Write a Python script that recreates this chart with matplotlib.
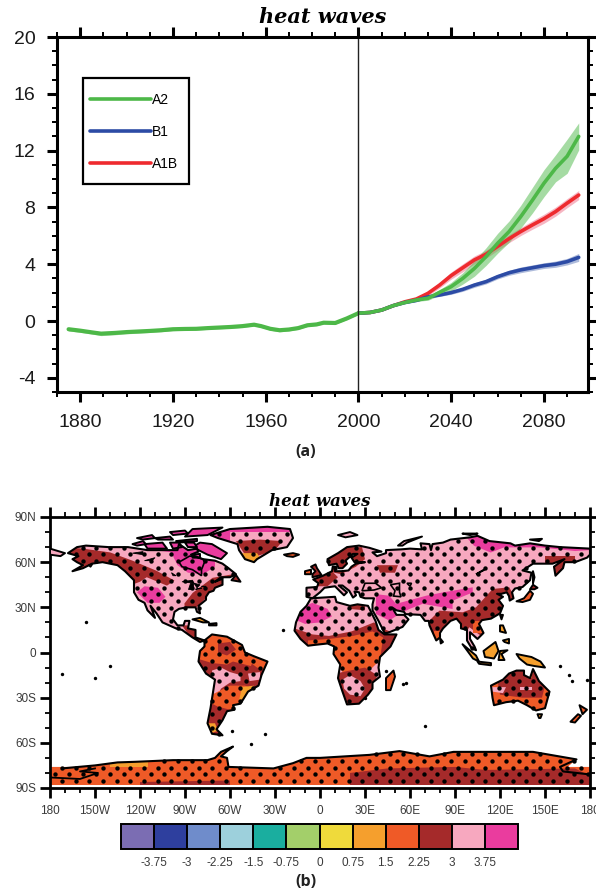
import numpy as np
import matplotlib
matplotlib.use("Agg")
import matplotlib.pyplot as plt
from matplotlib.colors import ListedColormap, BoundaryNorm
from matplotlib.path import Path
from matplotlib.patches import PathPatch, Polygon, Rectangle
from matplotlib.cm import ScalarMappable
from matplotlib.ticker import MultipleLocator

plt.rcParams['font.family'] = ['Liberation Sans', 'DejaVu Sans']
plt.rcParams['axes.unicode_minus'] = False

W, H = 596, 894

# ---- panel (a) data
hist_years = [1875, 1880, 1885, 1889, 1895, 1900, 1905, 1910, 1915, 1920, 1925, 1930, 1935, 1940, 1945, 1950,
              1955, 1958, 1962, 1966, 1970, 1974, 1978, 1982, 1985, 1990, 1995, 2000]
hist_vals = [-0.58, -0.68, -0.8, -0.89, -0.84, -0.78, -0.74, -0.7, -0.65, -0.58, -0.56, -0.55, -0.5, -0.46, -0.42,
             -0.36, -0.26, -0.36, -0.55, -0.65, -0.6, -0.5, -0.3, -0.24, -0.12, -0.14, 0.18, 0.55]
hist_err = [0.12, 0.12, 0.12, 0.14, 0.13, 0.12, 0.12, 0.11, 0.1, 0.1, 0.09, 0.09, 0.09, 0.09, 0.09, 0.09,
            0.09, 0.09, 0.1, 0.11, 0.1, 0.09, 0.09, 0.08, 0.08, 0.08, 0.08, 0.08]

fut_years = [2000, 2005, 2010, 2015, 2020, 2025, 2030, 2035, 2040, 2045, 2050, 2055, 2060, 2065, 2070, 2075,
             2080, 2085, 2090, 2095]
a2_vals = [0.55, 0.6, 0.77, 1.08, 1.3, 1.48, 1.6, 2.02, 2.42, 3.0, 3.7, 4.53, 5.47, 6.3, 7.35, 8.5, 9.7, 10.75,
           11.6, 13.0]
a2_err = [0.05, 0.05, 0.06, 0.07, 0.08, 0.1, 0.14, 0.2, 0.3, 0.4, 0.55, 0.62, 0.7, 0.75, 0.8, 0.9, 0.95, 0.95,
          1.2, 0.95]
b1_vals = [0.55, 0.6, 0.77, 1.08, 1.3, 1.45, 1.7, 1.83, 2.0, 2.23, 2.53, 2.77, 3.12, 3.4, 3.6, 3.75, 3.9, 4.0,
           4.18, 4.48]
b1_err = [0.05, 0.05, 0.05, 0.06, 0.06, 0.07, 0.08, 0.1, 0.12, 0.14, 0.16, 0.16, 0.16, 0.18, 0.2, 0.2, 0.2, 0.22,
          0.23, 0.28]
a1b_vals = [0.55, 0.6, 0.77, 1.08, 1.35, 1.55, 1.95, 2.53, 3.2, 3.75, 4.3, 4.7, 5.25, 5.8, 6.3, 6.76, 7.2, 7.7,
            8.3, 8.87]
a1b_err = [0.05, 0.05, 0.06, 0.07, 0.08, 0.12, 0.16, 0.2, 0.25, 0.28, 0.28, 0.28, 0.28, 0.28, 0.28, 0.3, 0.32, 0.32,
           0.32, 0.32]

green = '#4DB848'
blue = '#2C4BA5'
red = '#EE2A2E'

# ---- panel (b) data
bar_bounds = [-4.5, -3.75, -3, -2.25, -1.5, -0.75, 0, 0.75, 1.5, 2.25, 3, 3.75, 4.5]
bar_ticks = [-3.75, -3, -2.25, -1.5, -0.75, 0, 0.75, 1.5, 2.25, 3, 3.75]
bar_labels = ['-3.75', '-3', '-2.25', '-1.5', '-0.75', '0', '0.75', '1.5', '2.25', '3', '3.75']
bar_colors = ['#7B6DB3', '#2E3F9E', '#6F8CCB', '#9DD0DC', '#1AAE9F', '#A3CF6A', '#EFDA3B', '#F59F2D', '#EF5A27',
              '#A52A2A', '#F7A8BF', '#EA3C9E']

PINK, MAGENTA, DARK, ORED, ORANGE = 3.4, 4.0, 2.6, 1.9, 1.1

north_america = [(-168, 66), (-162, 70), (-156, 71), (-141, 70), (-128, 70), (-115, 68), (-108, 68), (-95, 68),
                 (-94, 72), (-88, 68), (-82, 69), (-81, 67), (-86, 65), (-78, 62), (-70, 61), (-65, 59), (-61, 56),
                 (-56, 52), (-60, 50), (-66, 50), (-70, 47), (-65, 49), (-65, 45), (-70, 43), (-71, 41), (-74, 40),
                 (-76, 37), (-76, 35), (-81, 31), (-80, 26), (-82, 27), (-83, 30), (-89, 30), (-94, 29), (-97, 27),
                 (-98, 22), (-95, 18), (-91, 18), (-90, 21), (-87, 21), (-88, 16), (-83, 15), (-83, 10), (-80, 9),
                 (-77, 8), (-80, 7), (-85, 10), (-92, 15), (-96, 16), (-105, 20), (-109, 26), (-113, 31), (-110, 23),
                 (-115, 28), (-117, 33), (-121, 35), (-124, 40), (-124, 48), (-130, 54), (-135, 58), (-145, 60),
                 (-152, 59), (-158, 56), (-165, 54), (-158, 58), (-162, 60), (-165, 62), (-161, 64)]
south_america = [(-77, 8), (-72, 12), (-62, 10.5), (-52, 5), (-50, 0), (-44, -2.5), (-35, -6), (-39, -15), (-41, -22),
                 (-48, -26), (-53, -34), (-58, -35), (-57, -38), (-62, -39), (-65, -45), (-69, -51), (-65, -55),
                 (-72, -54), (-75, -47), (-73, -37), (-70, -18), (-76, -14), (-81, -6), (-80, 1), (-77, 4)]
eurasia = [(-9, 37), (-9, 43), (-2, 43.5), (-1, 46), (-4.5, 48.5), (2, 51), (8, 54), (8.5, 57), (10.5, 57), (10, 54),
           (14, 54), (19, 54.5), (21, 57), (24, 59), (30, 60), (23, 60), (21, 63), (25, 65.5), (22, 65.5), (17, 61),
           (18, 59), (15, 56), (12.5, 56), (11, 59), (6, 58), (5, 62), (12, 66), (18, 70), (26, 71), (33, 69.5),
           (41, 67), (35, 66.5), (38, 64), (44, 66), (44, 68), (54, 68.5), (60, 69), (68, 68.5), (67, 72.5), (73, 72),
           (74, 68), (75, 72), (82, 73), (87, 75), (100, 76.5), (105, 77.5), (113, 74), (127, 72.5), (130, 71),
           (140, 72.5), (150, 71), (160, 70), (170, 69.5), (180, 69), (180, 65), (178, 63), (170, 60), (163, 60),
           (162, 56), (157, 51), (156, 57), (163, 62), (155, 59), (142, 59), (135, 54.5), (141, 53), (140, 48),
           (135, 43.5), (130, 42.5), (128, 40), (129, 36), (126.5, 34.5), (126, 37.5), (124.5, 40), (121, 39),
           (118, 39), (122, 37), (119, 35), (122, 31), (120, 26), (114, 22.5), (108, 21.5), (106, 19), (109, 13),
           (106, 10), (105, 9), (100, 13.5), (100, 9), (103, 4), (104, 1.5), (101, 3), (98, 8), (98, 15), (94, 16),
           (94, 19), (91, 22.5), (87, 21), (82, 16), (80, 13), (80, 10), (77.5, 8), (73, 18), (72.5, 21), (70, 21),
           (67, 25), (57, 25.5), (56, 27), (51, 28), (48, 30), (51, 25), (56, 25), (59, 22), (55, 17), (45, 13),
           (43, 13), (39, 21), (35, 28), (35, 32), (36, 36), (30, 36), (27, 37), (26, 40), (23, 40.5), (24, 38),
           (22, 36.5), (19.5, 41), (15, 44.5), (12.5, 44.5), (18, 40), (16, 38), (10, 44), (3, 43), (0, 40), (-5, 36)]
africa = [(-6, 36), (10, 37), (11, 33.5), (20, 31), (25, 32), (32, 31), (34, 27), (37, 21), (39, 15), (43, 12), (51, 12),
          (47, 4), (40, -3), (39, -10), (40, -16), (35, -20), (35, -24), (32, -28), (26, -34), (18, -34.5), (15, -26),
          (12, -17), (13.5, -8), (9, -1), (9.5, 4), (5, 6), (-4, 5), (-8, 4.5), (-13, 9), (-17, 14.5), (-16, 20),
          (-13, 27), (-9, 31)]
australia = [(114, -22), (122, -18), (126, -14), (131, -12), (136, -12), (136, -15), (140, -17), (142, -11), (146, -19),
             (153, -26), (150, -37), (144, -38.5), (138, -35), (132, -32), (124, -33), (116, -35), (115, -30)]
greenland = [(-73, 78), (-60, 82), (-35, 83.5), (-20, 82), (-18, 76), (-22, 70), (-32, 68), (-42, 62), (-44, 60),
             (-50, 62), (-54, 68), (-55, 72), (-68, 76)]
antarctica_coast = [(-172, -77), (-150, -75), (-135, -73), (-123, -72.6), (-98, -71.5), (-75, -71.5), (-70, -70),
                    (-66, -66), (-58, -62.5), (-62, -65.5), (-66, -69), (-62, -70), (-61, -76), (-31, -77), (-18, -73.5),
                    (-9, -70), (0, -70), (33, -68), (53, -65.5), (73, -69), (89, -66), (142, -66), (171, -71), (160, -76),
                    (162, -79), (180, -81)]
antarctica = [(-180, -76), (-165, -76), (-150, -75), (-135, -73), (-123, -72.6), (-98, -71.5), (-75, -71.5), (-70, -70),
              (-66, -66), (-58, -62.5), (-62, -65.5), (-66, -69), (-62, -70), (-61, -76), (-31, -77), (-18, -73.5),
              (-9, -70), (0, -70), (33, -68), (53, -65.5), (73, -69), (89, -66), (142, -66), (171, -71), (165, -76),
              (180, -76), (180, -88), (-180, -88)]
ross_line = [(-180, -83), (-160, -84), (-148, -80), (-160, -79), (-150, -77)]

# islands: polygon, fill value
islands = [
    ([(-5, 50), (1, 51.5), (-2, 56), (-3, 58.5), (-6, 57), (-3, 54), (-5, 52)], DARK),
    ([(-10, 52), (-6, 52), (-6, 55), (-10, 54)], ORED),
    ([(-24, 65), (-18, 66), (-14, 65), (-18, 63.5), (-22, 64)], ORED),
    ([(-80, 73), (-72, 72), (-62, 66), (-66, 62), (-75, 65), (-85, 70)], MAGENTA),
    ([(-117, 72), (-105, 73), (-102, 69), (-115, 69)], MAGENTA),
    ([(-90, 77), (-85, 82), (-65, 83), (-75, 78)], MAGENTA),
    ([(-125, 72), (-118, 74), (-116, 72), (-122, 71)], MAGENTA),
    ([(-96, 74), (-82, 75.5), (-82, 74), (-94, 73)], MAGENTA),
    ([(-110, 76), (-100, 77), (-98, 75), (-108, 75)], MAGENTA),
    ([(-100, 73), (-94, 73), (-92, 70), (-98, 69)], MAGENTA),
    ([(-90, 73), (-84, 73), (-82, 70), (-88, 70)], MAGENTA),
    ([(-122, 76), (-112, 78), (-110, 76), (-118, 75)], MAGENTA),
    ([(-100, 80), (-90, 81), (-88, 79), (-98, 78)], MAGENTA),
    ([(-85, 65), (-80, 65.5), (-80, 63), (-85, 63)], MAGENTA),
    ([(-59, 48), (-56, 51.5), (-53, 47)], DARK),
    ([(-85, 22), (-80, 23), (-74, 20), (-78, 20)], ORANGE),
    ([(-74, 19), (-69, 19.5), (-69, 18), (-74, 18)], ORANGE),
    ([(49, -12), (50, -16), (47, -25), (44, -25), (44, -17)], ORED),
    ([(95, 5.5), (104, -2), (106, -6), (102, -4)], ORANGE),
    ([(105, -6), (114, -7), (114, -8.5), (106, -7.5)], ORANGE),
    ([(109, 1), (117, 7), (119, 1), (116, -4), (110, -3)], ORANGE),
    ([(119, -5), (120, 1), (125, 1.5), (121, -1), (123, -5)], ORANGE),
    ([(131, -1), (141, -3), (147, -6), (150, -10), (143, -9), (138, -8), (133, -4)], ORANGE),
    ([(120, 18), (122, 18), (124, 13), (120, 14)], ORANGE),
    ([(122, 8), (126, 9), (126, 6), (123, 7)], ORANGE),
    ([(131, 34), (136, 36), (140, 41), (142, 39), (140, 35), (135, 33.5)], ORED),
    ([(140, 42), (142, 45), (145, 43), (143, 42)], DARK),
    ([(142, 54), (143, 50), (142, 46), (142, 50)], DARK),
    ([(120, 25), (122, 25), (121, 22)], ORED),
    ([(80, 9.5), (82, 7), (80.5, 6)], ORED),
    ([(145, -41), (148, -41), (147, -43.5), (146, -43.5)], ORANGE),
    ([(173, -35), (178, -38), (175, -41), (174, -38)], ORED),
    ([(172, -41), (174, -42), (170, -46.5), (167, -46)], ORED),
    ([(52, 71), (56, 74), (68, 77), (58, 73), (55, 71)], PINK),
    ([(12, 78), (20, 80), (25, 78), (17, 76.5)], PINK),
    ([(95, 79), (105, 79), (100, 78)], MAGENTA),
    ([(140, 75), (148, 75.5), (146, 74)], MAGENTA),
    ([(-180, 65), (-180, 69), (-175, 67.5), (-170, 66), (-173, 64)], PINK),
    ([(-154, 58), (-152, 58.5), (-153, 57)], DARK),
]
base_fill = [(north_america, PINK), (south_america, DARK), (eurasia, PINK), (africa, PINK), (australia, ORED),
             (greenland, PINK), (antarctica, ORED)]

# areas inside the land, painted in this order and clipped to the coast
overlays = [
    ([(-170, 70), (-158, 69), (-140, 66.5), (-125, 61), (-109, 54.3), (-97, 47.8), (-102, 44.4), (-115.5, 50), (-120, 47),
      (-128, 44), (-140, 55), (-170, 55)], DARK),
    ([(-90.4, 32.5), (-84.9, 39.6), (-71.6, 49.6), (-58, 52), (-53, 47.8), (-75.5, 36.7), (-82.9, 29.5), (-90, 28)], DARK),
    ([(-92, 18), (-84, 18), (-78, 8), (-85, 8)], DARK),
    ([(-122, 40), (-117, 44), (-108, 43), (-103, 37), (-107, 33), (-115, 33)], MAGENTA),
    ([(-125, 84), (-60, 84), (-60, 70), (-85, 68), (-95, 66), (-110, 68), (-125, 70)], MAGENTA),
    ([(-100, 68), (-80, 68), (-70, 62), (-70, 57), (-78, 52), (-88, 53), (-95, 58)], MAGENTA),
    # greenland
    ([(-80, 80), (-10, 80), (-10, 85), (-80, 85)], MAGENTA),
    ([(-56, 74), (-40, 75), (-25, 74), (-30, 68), (-42, 64), (-50, 65)], DARK),
    ([(-52, 66), (-42, 66), (-38, 60), (-50, 58)], ORANGE),
    # south america
    ([(-80, 14), (-60, 12), (-48, 3), (-44, -3), (-46, -9), (-58, -6), (-62, -8), (-72, -7), (-82, -4)], ORED),
    ([(-68, 6), (-60, 7), (-56, 2), (-62, -2), (-68, 0)], DARK),
    ([(-44, -3), (-35, -5), (-36, -12), (-42, -10), (-46, -7)], ORED),
    ([(-72, -12), (-66, -10), (-60, -13), (-53, -15), (-53, -19), (-60, -20), (-66, -24), (-69, -30), (-71, -28)], PINK),
    ([(-48, -14), (-40, -13), (-40, -18), (-47, -19)], PINK),
    ([(-72, -28), (-60, -22), (-50, -22), (-45, -24), (-52, -33), (-60, -38), (-68, -36), (-72, -34)], ORED),
    ([(-52, -23), (-44, -22), (-48, -29), (-54, -32)], ORANGE),
    ([(-75, -47), (-70, -47), (-68, -52), (-74, -54)], ORANGE),
    # africa
    ([(-17, 22), (-12, 30), (-5, 33), (5, 29), (8, 24), (0, 20), (-10, 19)], MAGENTA),
    ([(-20, 17), (-5, 12), (6, 11), (21, 14), (36, 20), (44, 15), (52, 12), (42, -2), (35, -5), (15, 4), (-10, 3),
      (-20, 10)], DARK),
    ([(19, 34), (30, 34), (30, 28), (19, 29)], DARK),
    ([(-8, 8), (6, 9), (22, 11), (35, 14), (42, 10), (40, -5), (35, -10), (26, -14), (15, -13), (8, -2), (5, 4), (-8, 4)],
     ORED),
    ([(10, -14), (30, -10), (38, -15), (36, -26), (30, -35), (18, -36), (12, -18)], DARK),
    ([(15, -18), (20, -15), (27, -19), (30, -24), (27, -29), (20, -28), (16, -24)], PINK),
    # eurasia
    ([(5, 70), (28, 70), (30, 62), (24, 57), (14, 52), (5, 54)], DARK),
    ([(-12, 60), (2, 60), (12, 50), (5, 44), (-10, 44)], DARK),
    ([(38, 58), (52, 58), (50, 53), (40, 53)], DARK),
    ([(37.3, 38.8), (46.2, 37.7), (50.7, 32.3), (70.7, 37.7), (81.8, 39.9), (101.8, 43.3), (101.8, 39.9), (88.4, 34.4),
      (88.4, 28.9), (68.4, 32.3), (59.6, 28.9), (52.9, 25.6), (46.2, 21.2), (37.3, 25.6)], MAGENTA),
    ([(82.7, 74.5), (98, 76), (102.7, 70.9), (113.8, 66.4), (122.7, 69.8), (147, 69.8), (170, 67.4), (180, 68), (180, 75),
      (82.7, 80)], MAGENTA),
    ([(72.9, 21.2), (79.6, 27.8), (95.1, 26.7), (104, 30), (115.1, 42.2), (126.2, 43.3), (130.7, 34.4), (121.8, 27.8),
      (119.6, 21.2), (108.4, 10.2), (99.6, 16.8), (95, 10), (79.6, 5.6), (72.9, 10)], DARK),
    ([(102, 21), (108, 21), (108, 13), (102, 13)], ORED),
    ([(76, 14), (81, 14), (81, 7), (76, 7)], ORED),
    ([(150, 64), (170, 64), (170, 50), (150, 50)], DARK),
    # australia
    ([(118, -17), (130, -12), (142, -12), (150, -22), (148, -30), (135, -30), (120, -28)], DARK),
    ([(114, -23), (124, -23), (122, -27), (115, -26)], PINK),
    ([(133, -23), (141, -23), (141, -25), (133, -25)], PINK),
    ([(138, -11), (142, -11), (141, -17), (138, -16)], ORANGE),
    # antarctica
    ([(-140, -72), (-115, -72), (-115, -76), (-140, -76)], ORANGE),
    ([(20, -80), (45, -77), (90, -76), (110, -78), (170, -77), (180, -82), (180, -88), (20, -88)], DARK),
    ([(-120, -86), (-60, -85), (-60, -88), (-120, -88)], DARK),
]

# lakes and inland seas as outlines
inland_seas = [[(-94, 60), (-92, 57), (-85, 55), (-82, 53), (-79, 51), (-79, 55), (-77, 60), (-78, 62), (-85, 64), (-87, 64)],
               [(28, 41), (30, 46), (37, 46), (41, 43), (36, 41.5)],
               [(47, 45), (53, 46), (53, 40), (54, 37), (49, 37.5), (50, 41)],
               [(58, 46), (61, 46), (60, 44)],
               [(104, 52), (110, 55.5), (109, 54.5)]]
lakes = [[(-92, 47), (-85, 48), (-84, 46), (-88, 46.5)], [(-88, 42), (-85, 42), (-85, 46), (-87, 46)],
         [(-84, 46), (-80, 45), (-82, 43)], [(-83, 42), (-79, 43), (-79, 42.5)], [(-79, 44), (-76, 44), (-77, 43.5)],
         [(-125, 66), (-118, 67), (-118, 65)], [(-117, 61), (-110, 63), (-112, 61)], [(-99, 53), (-96, 51), (-98, 51)]]
dot_islands_lon = [-156, -172, -150, -59, -37, -46, 70, 57, 55, -25, -140, 166, 168, 160, 178, 30, 44]
dot_islands_lat = [20, -14, -17, -52, -54, -61, -49, -20, -21, 15, -9, -15, -19, -9, -18, -30, -12]

map_lons = np.arange(-176.5, 180, 4.55)
map_rows = np.arange(78.56, -88, -4.43)

fig = plt.figure(figsize=(W / 100, H / 100), dpi=100)


def axes_px(left, top, right, bottom):
    return fig.add_axes([left / W, 1 - bottom / H, (right - left) / W, (bottom - top) / H])


def style_axes(ax, major, minor, lw):
    for s in ax.spines.values():
        s.set_linewidth(lw)
    ax.tick_params(which='both', top=True, right=True, direction='out', width=lw, color='black')
    ax.tick_params(which='major', length=major)
    ax.tick_params(which='minor', length=minor, width=lw * 0.65)


# ---- (a) time series
ax = axes_px(57, 37, 588, 392)
ax.set_xlim(1870, 2099)
ax.set_ylim(-5, 20)
for vals, err, col, band in [(a1b_vals, a1b_err, red, '#EE6F88'), (b1_vals, b1_err, blue, '#5F78B8'),
                             (a2_vals, a2_err, green, green)]:
    v = np.array(vals)
    e = np.array(err)
    ax.fill_between(fut_years, v - e, v + e, color=band, alpha=0.5, lw=0)
ax.fill_between(hist_years, np.array(hist_vals) - np.array(hist_err), np.array(hist_vals) + np.array(hist_err),
                color=green, alpha=0.5, lw=0)
ax.plot(fut_years, a1b_vals, color=red, lw=2.6, label='A1B', solid_capstyle='round')
ax.plot(fut_years, b1_vals, color=blue, lw=2.6, label='B1', solid_capstyle='round')
ax.plot(fut_years, a2_vals, color=green, lw=2.6, label='A2', solid_capstyle='round')
ax.plot(hist_years, hist_vals, color=green, lw=3, solid_capstyle='round')
ax.axvline(2000, color='#222222', lw=1.0)

ax.set_xticks([1880, 1920, 1960, 2000, 2040, 2080])
ax.xaxis.set_minor_locator(MultipleLocator(10))
ax.set_yticks([-4, 0, 4, 8, 12, 16, 20])
ax.yaxis.set_minor_locator(MultipleLocator(1))
style_axes(ax, 7.5, 3.5, 2.2)
ax.tick_params(which='major', labelsize=14, labelcolor='#1a1a1a', pad=8)
ax.set_title('heat waves', family='DejaVu Serif', style='italic', weight='bold', fontsize=15, pad=10)

ax.add_patch(Rectangle((83 / 531 - 57 / 531, 1 - 41 / 355), 106 / 531, -106 / 355, transform=ax.transAxes,
                       fc='white', ec='black', lw=1.6, zorder=4))
hs, ls = ax.get_legend_handles_labels()
leg = ax.legend(hs[::-1], ls[::-1], loc='upper left', bbox_to_anchor=(0.062, 0.8425), frameon=False, fontsize=10,
                handlelength=4.4, handletextpad=0.05, labelspacing=1.29, borderpad=0, borderaxespad=0)
leg.set_zorder(5)

# ---- (b) map
cmap = ListedColormap(bar_colors)
norm = BoundaryNorm(bar_bounds, cmap.N)
mp = axes_px(50, 517, 590, 788)
mp.set_xlim(-180, 180)
mp.set_ylim(-90, 90)


def ring(p):
    pts = np.array(list(p) + [p[0]], dtype=float)
    codes = [Path.MOVETO] + [Path.LINETO] * (len(p) - 1) + [Path.CLOSEPOLY]
    return Path(pts, codes)


main_rings = [ring(p) for p, v in base_fill]
for p, v in base_fill:
    mp.add_patch(Polygon(p, closed=True, fc=cmap(norm(v)), ec='none', zorder=1))
clip = PathPatch(Path.make_compound_path(*main_rings), fc='none', ec='none', zorder=1)
mp.add_patch(clip)
for p, v in overlays:
    patch = Polygon(p, closed=True, fc=cmap(norm(v)), ec='none', zorder=2)
    mp.add_patch(patch)
    patch.set_clip_path(clip)
for p, v in islands:
    mp.add_patch(Polygon(p, closed=True, fc=cmap(norm(v)), ec='black', lw=1.4, zorder=3, joinstyle='round'))
for p in [north_america, south_america, eurasia, africa, australia, greenland]:
    mp.add_patch(Polygon(p, closed=True, fc='none', ec='black', lw=1.5, zorder=3, joinstyle='round'))
for p in inland_seas:
    mp.add_patch(Polygon(p, closed=True, fc='none', ec='black', lw=1.2, zorder=3))
for p in lakes:
    mp.add_patch(Polygon(p, closed=True, fc='black', ec='black', lw=0.6, zorder=3))
mp.plot(*zip(*antarctica_coast), color='black', lw=1.5, zorder=3)
mp.plot(*zip(*ross_line), color='black', lw=1.3, zorder=3)
mp.scatter(dot_islands_lon, dot_islands_lat, s=6, color='black', zorder=3, lw=0)

# significance dots on the staggered grid, land only
grid = []
for i, lat in enumerate(map_rows):
    for lon in map_lons[(i % 2)::2]:
        grid.append((lon, lat))
grid = np.array(grid)
on_land = np.zeros(len(grid), dtype=bool)
for r in main_rings:
    on_land |= r.contains_points(grid)
mp.scatter(grid[on_land, 0], grid[on_land, 1], s=10, color='black', lw=0, zorder=4)

mp.set_xticks(np.arange(-180, 181, 30))
mp.set_xticklabels(['180', '150W', '120W', '90W', '60W', '30W', '0', '30E', '60E', '90E', '120E', '150E', '180'])
mp.set_yticks(np.arange(-90, 91, 30))
mp.set_yticklabels(['90S', '60S', '30S', '0', '30N', '60N', '90N'])
mp.xaxis.set_minor_locator(MultipleLocator(10))
mp.yaxis.set_minor_locator(MultipleLocator(10))
style_axes(mp, 7, 3.5, 2.0)
mp.tick_params(which='major', labelsize=8.5, labelcolor='#3a3a3a', pad=5)
mp.tick_params(axis='y', which='major', pad=3)
mp.set_title('heat waves', family='DejaVu Serif', style='italic', weight='bold', fontsize=12, pad=8)

# ---- colour bar
cax = axes_px(121, 824, 518, 849)
cb = fig.colorbar(ScalarMappable(norm=norm, cmap=cmap), cax=cax, orientation='horizontal', spacing='uniform',
                  drawedges=True, ticks=bar_ticks)
cb.ax.set_xticklabels(bar_labels)
cb.ax.tick_params(length=0, labelsize=8.5, labelcolor='#3a3a3a', pad=6)
cb.ax.minorticks_off()
cb.outline.set_linewidth(1.4)
cb.dividers.set_linewidth(1.4)
cb.dividers.set_color('black')

fig.text(306 / W, 1 - 452 / H, '(a)', family='Open Sans', weight='bold', fontsize=11.5, color='#222222',
         ha='center', va='center')
fig.text(306 / W, 1 - 882 / H, '(b)', family='Open Sans', weight='bold', fontsize=11.5, color='#222222',
         ha='center', va='center')

fig.savefig('out.png', dpi=100)
